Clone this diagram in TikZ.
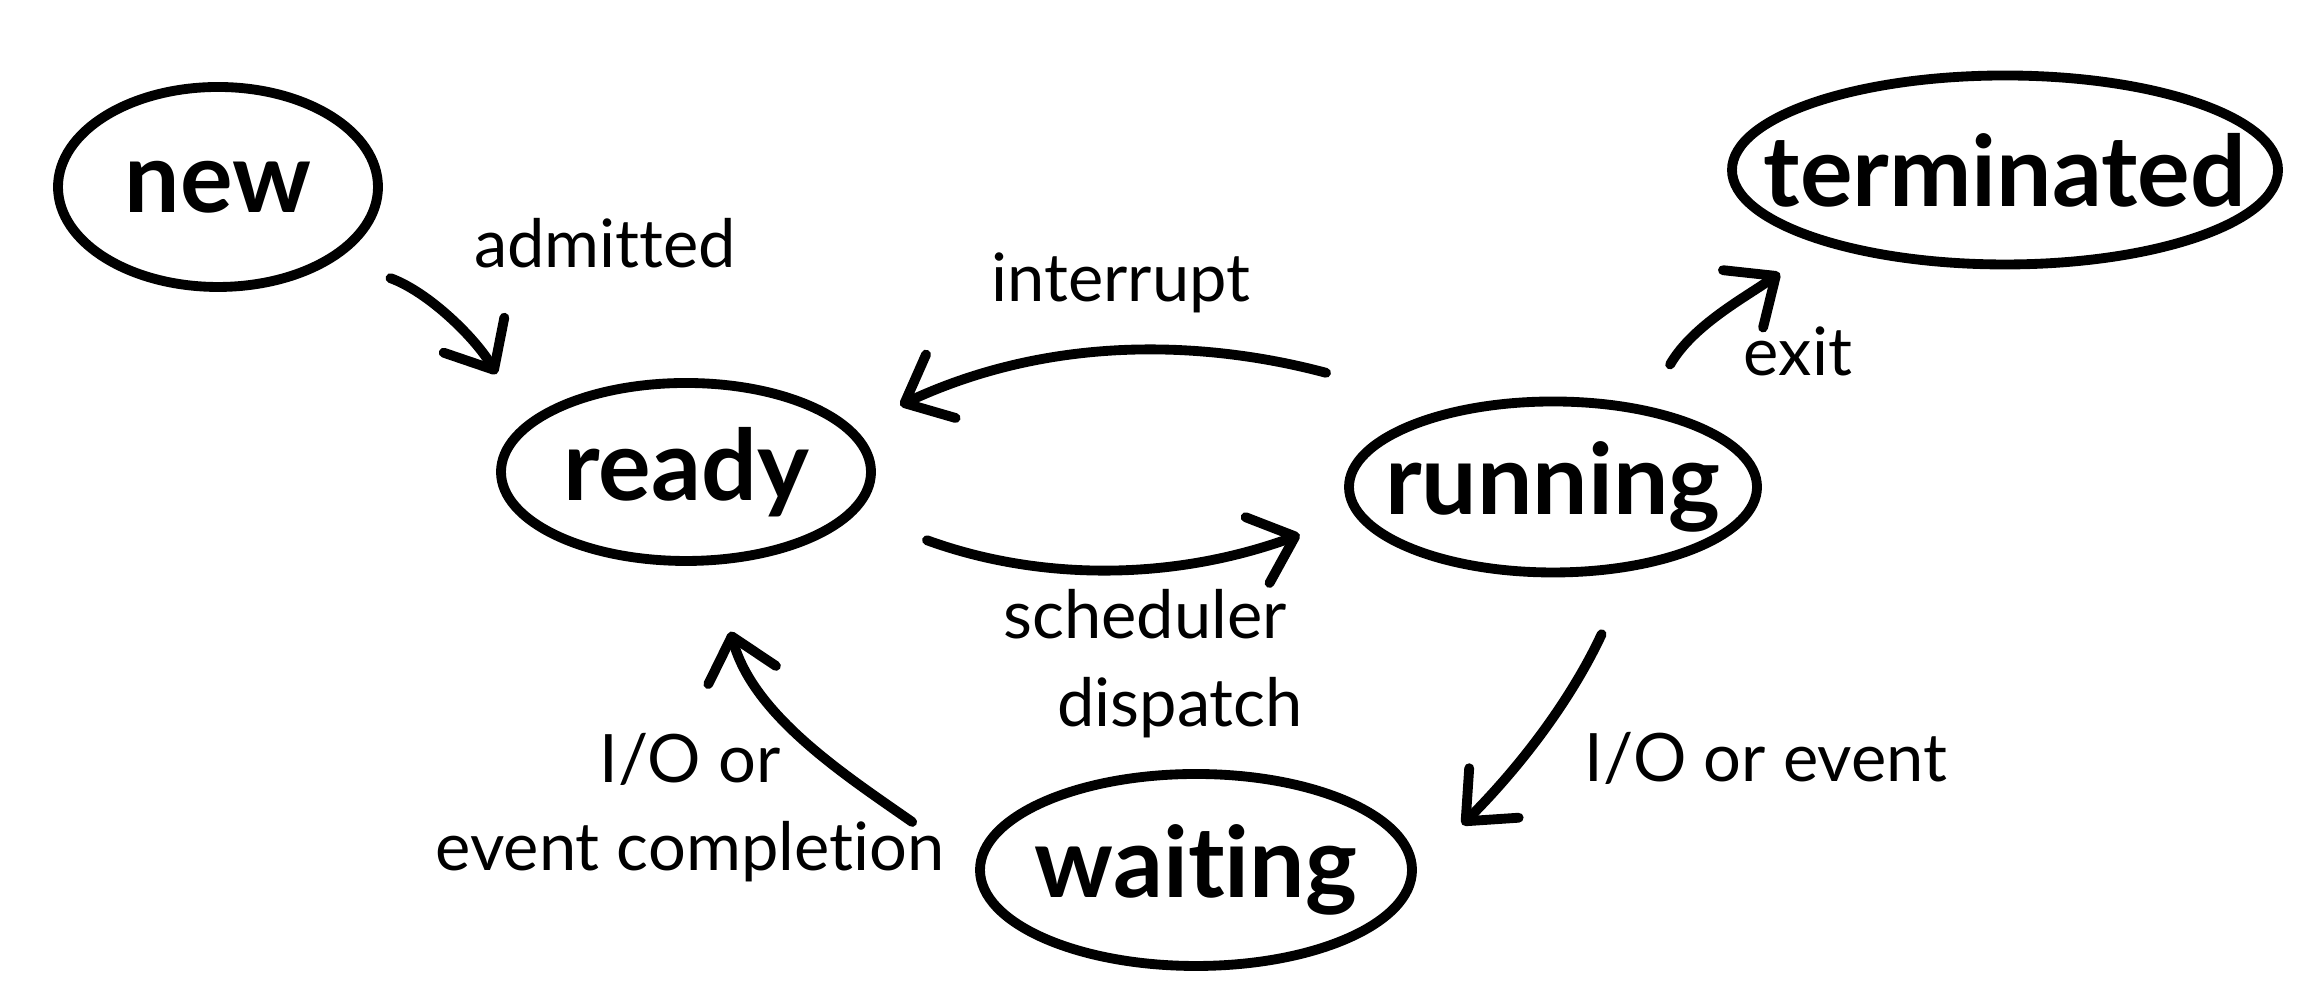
\documentclass[tikz,border=0pt]{standalone}
\usepackage{fontspec}
\setmainfont{Lato}[Ligatures=NoCommon]
\usetikzlibrary{shapes.geometric,arrows.meta}
\newcommand{\stname}[1]{\makebox[0pt]{#1}}
\begin{document}
\begin{tikzpicture}[
    state/.style={ellipse,draw,line width=2.8pt,inner sep=0pt,font=\fontsize{28}{32}\selectfont\bfseries},
    lbl/.style={font=\fontsize{19}{25}\selectfont,align=center},
    flow/.style={-{Straight Barb[length=4mm,width=7mm,round]},line width=2.8pt,line cap=round}]
    \useasboundingbox (0,0) rectangle (23.12,10);
    % States
    \node[state,minimum width=3.2cm,minimum height=2.0cm] (new) at (2.18,8.13) {\stname{new}};
    \node[state,minimum width=5.46cm,minimum height=1.89cm] (term) at (20.05,8.30) {\stname{terminated}};
    \node[state,minimum width=3.7cm,minimum height=1.78cm] (ready) at (6.86,5.28) {\stname{ready}};
    \node[state,minimum width=4.08cm,minimum height=1.71cm] (run) at (15.53,5.13) {\stname{running}};
    \node[state,minimum width=4.32cm,minimum height=1.92cm] (wait) at (11.96,1.30) {\stname{waiting}};
    % Transitions
    \draw[flow,shorten <=0.56cm,shorten >=0.56cm] (new.-31) to[out=-20,in=120] (ready.163);
    \draw[flow,shorten <=1.33cm,shorten >=0.52cm] (run.141) to[out=165,in=25] (ready.15);
    \draw[flow,shorten <=0.76cm,shorten >=0.58cm] (ready.-14) to[out=-20,in=200] (run.188);
    \draw[flow,shorten <=0.48cm,shorten >=0.5cm] (run.41) to[out=60,in=215] (term.202);
    \draw[flow,shorten <=0.7cm,shorten >=0.64cm] (run.-47) to[out=-115,in=45] (wait.0);
    \draw[flow,shorten <=0.77cm,shorten >=0.69cm] (wait.179) to[out=145,in=-75] (ready.-74);
    % Labels
    \node[lbl] (admitted) at (6.05,7.57) {admitted};
    \node[lbl] (interrupt) at (11.21,7.17) {interrupt};
    \node[lbl] (dispatch) at (11.45,3.36) {scheduler\\\hspace*{0.7cm}dispatch};
    \node[lbl] (exit) at (17.98,6.49) {exit};
    \node[lbl] (ioevent) at (17.66,2.42) {I/O or event};
    \node[lbl] (iodone) at (6.9,1.92) {I/O or\\event completion};
\end{tikzpicture}
\end{document}
